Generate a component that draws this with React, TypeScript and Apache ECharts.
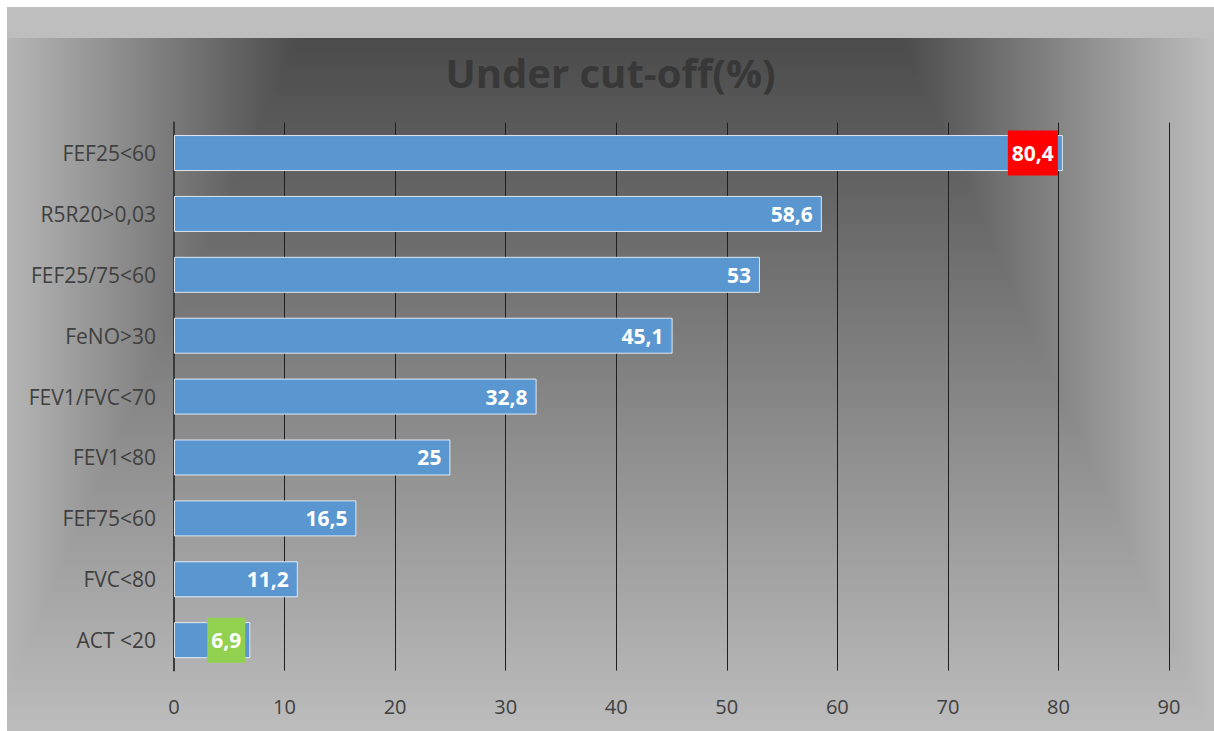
import React, { useEffect, useRef } from "react";
import * as echarts from "echarts";

// Share of subjects under each cut-off, top to bottom
const categories = [
  "FEF25<60",
  "R5R20>0,03",
  "FEF25/75<60",
  "FeNO>30",
  "FEV1/FVC<70",
  "FEV1<80",
  "FEF75<60",
  "FVC<80",
  "ACT <20",
];
const values = [80.4, 58.6, 53, 45.1, 32.8, 25, 16.5, 11.2, 6.9];
const labelBackgrounds: (string | null)[] = [
  "#ff0000",
  null,
  null,
  null,
  null,
  null,
  null,
  null,
  "#92d050",
];
const xTicks = [0, 10, 20, 30, 40, 50, 60, 70, 80, 90];

const W = 1207;
const H = 724;
const DARK = "#4b4b4b";
const LIGHT = "#bcbcbc";

export default function App() {
  const ref = useRef<HTMLDivElement>(null);

  useEffect(() => {
    if (!ref.current) return;
    const chart = echarts.init(ref.current, undefined, { renderer: "svg" });

    const bandTop = 31;
    const cxL = 293;
    const cxR = 893;
    const spanX = 310;
    const spanY = 690;

    const data = values.map((v, i) => {
      const bg = labelBackgrounds[i];
      return bg ? { value: v, label: { backgroundColor: bg } } : { value: v };
    });

    chart.setOption({
      animation: false,
      backgroundColor: LIGHT,
      graphic: [
        {
          type: "rect",
          z: -100,
          silent: true,
          shape: { x: 0, y: 0, width: W, height: bandTop },
          style: { fill: "#bebebe" },
        },
        {
          type: "rect",
          z: -100,
          silent: true,
          shape: { x: 0, y: bandTop, width: W, height: H - bandTop },
          style: {
            fill: {
              type: "linear",
              x: 0,
              y: bandTop,
              x2: 0,
              y2: bandTop + spanY,
              global: true,
              colorStops: [
                { offset: 0, color: DARK },
                { offset: 1, color: LIGHT },
              ],
            },
          },
        },
        {
          type: "polygon",
          z: -99,
          silent: true,
          shape: {
            points: [
              [cxL, bandTop],
              [0, bandTop],
              [0, bandTop + (spanY * cxL) / spanX],
            ],
          },
          style: {
            fill: {
              type: "linear",
              x: cxL,
              y: 0,
              x2: cxL - spanX,
              y2: 0,
              global: true,
              colorStops: [
                { offset: 0, color: DARK },
                { offset: 1, color: LIGHT },
              ],
            },
          },
        },
        {
          type: "polygon",
          z: -99,
          silent: true,
          shape: {
            points: [
              [cxR, bandTop],
              [W, bandTop],
              [W, bandTop + (spanY * (W - cxR)) / spanX],
            ],
          },
          style: {
            fill: {
              type: "linear",
              x: cxR,
              y: 0,
              x2: cxR + spanX,
              y2: 0,
              global: true,
              colorStops: [
                { offset: 0, color: DARK },
                { offset: 1, color: LIGHT },
              ],
            },
          },
        },
      ],
      title: {
        text: "Under cut-off(%)",
        left: "center",
        top: 40,
        textStyle: {
          fontFamily: "Open Sans",
          fontSize: 40,
          fontWeight: "bold",
          color: "#383838",
        },
      },
      grid: { left: 167, right: 45, top: 115.6, bottom: 60.4 },
      xAxis: {
        type: "value",
        min: xTicks[0],
        max: xTicks[xTicks.length - 1],
        interval: 10,
        axisLine: { show: false },
        axisTick: { show: false },
        axisLabel: {
          margin: 26,
          fontFamily: "Open Sans",
          fontSize: 20,
          color: "#404040",
        },
        splitLine: { show: true, lineStyle: { color: "#1f1f1f", width: 1 } },
      },
      yAxis: {
        type: "category",
        inverse: true,
        data: categories,
        axisLine: { show: true, lineStyle: { color: "#3a3a3a", width: 2 } },
        axisTick: { show: false },
        axisLabel: {
          margin: 18,
          fontFamily: "Open Sans",
          fontSize: 21,
          color: "#404040",
        },
        splitLine: { show: false },
      },
      series: [
        {
          type: "bar",
          data,
          barWidth: 36,
          itemStyle: {
            color: "#5a97d1",
            borderColor: "rgba(235,242,250,0.9)",
            borderWidth: 1,
          },
          label: {
            show: true,
            position: "insideRight",
            distance: 5,
            color: "#ffffff",
            fontFamily: "Open Sans",
            fontWeight: "bold",
            fontSize: 21,
            lineHeight: 25,
            padding: [10, 4, 10, 4],
            formatter: (p: any) => String(p.value).replace(".", ","),
          },
        },
      ],
    });

    return () => chart.dispose();
  }, []);

  return (
    <div
      ref={ref}
      style={{ position: "absolute", left: 7, top: 7, width: W, height: H }}
    />
  );
}
